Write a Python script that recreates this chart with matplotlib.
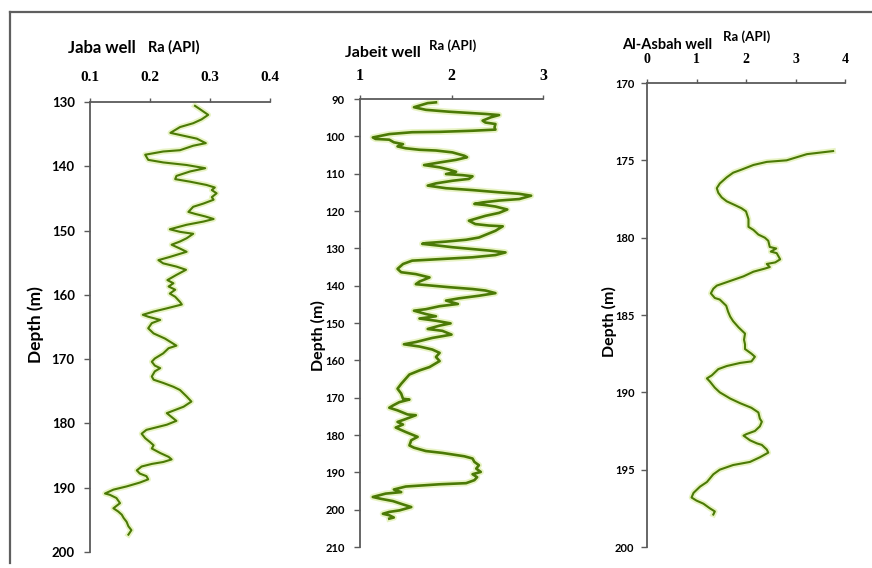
import matplotlib.pyplot as plt
from matplotlib.lines import Line2D

# Jaba well: Ra (API) against depth (m)
jaba_ra = [0.275, 0.283, 0.297, 0.286, 0.272, 0.250, 0.234, 0.278, 0.293, 0.272,
           0.250, 0.222, 0.192, 0.197, 0.222, 0.261, 0.292, 0.267, 0.244, 0.242,
           0.267, 0.294, 0.308, 0.303, 0.311, 0.303, 0.306, 0.289, 0.272, 0.264,
           0.275, 0.292, 0.306, 0.289, 0.261, 0.233, 0.250, 0.272, 0.261, 0.250,
           0.236, 0.250, 0.261, 0.233, 0.214, 0.222, 0.244, 0.260, 0.244, 0.229,
           0.239, 0.231, 0.242, 0.233, 0.242, 0.250, 0.253, 0.228, 0.206, 0.188,
           0.197, 0.217, 0.203, 0.197, 0.206, 0.225, 0.244, 0.231, 0.222, 0.208,
           0.203, 0.208, 0.217, 0.208, 0.203, 0.206, 0.222, 0.239, 0.250, 0.261,
           0.269, 0.256, 0.242, 0.228, 0.236, 0.244, 0.228, 0.211, 0.194, 0.186,
           0.192, 0.200, 0.206, 0.203, 0.217, 0.231, 0.236, 0.222, 0.203, 0.186,
           0.178, 0.183, 0.194, 0.197, 0.183, 0.161, 0.139, 0.125, 0.133, 0.144,
           0.150, 0.139, 0.147, 0.153, 0.156, 0.161, 0.164, 0.169, 0.164]
jaba_depth = [130.6, 131.1, 132.0, 132.7, 133.3, 133.9, 134.8, 135.7, 136.4, 136.8,
              137.5, 137.7, 138.2, 139.0, 139.4, 139.8, 140.3, 140.8, 141.5, 142.0,
              142.4, 142.9, 143.3, 143.7, 144.2, 144.8, 145.2, 145.8, 146.3, 147.1,
              147.4, 147.8, 148.2, 148.6, 149.1, 149.8, 150.2, 150.5, 151.2, 151.7,
              152.2, 152.8, 153.3, 154.1, 154.6, 155.1, 155.6, 156.1, 156.9, 157.7,
              158.2, 158.7, 159.2, 159.8, 160.3, 161.1, 161.5, 162.1, 162.6, 163.1,
              163.4, 163.9, 164.4, 165.2, 166.0, 166.8, 167.9, 168.3, 169.1, 169.9,
              170.4, 171.0, 171.4, 171.9, 172.7, 173.2, 173.7, 174.3, 174.8, 175.8,
              176.6, 177.4, 177.9, 178.4, 179.0, 179.6, 180.2, 180.6, 181.0, 181.6,
              182.3, 182.9, 183.4, 183.9, 184.6, 185.2, 185.6, 186.0, 186.3, 186.7,
              187.3, 187.8, 188.2, 188.7, 189.2, 189.8, 190.3, 190.9, 191.1, 191.6,
              192.4, 193.2, 193.7, 194.2, 194.7, 195.3, 196.0, 196.6, 197.3]

# Jabeit well
jabeit_ra = [1.83, 1.74, 1.59, 1.72, 1.97, 2.23, 2.37, 2.52, 2.43, 2.34, 2.37, 2.48,
             2.47, 2.48, 2.23, 1.87, 1.57, 1.32, 1.14, 1.17, 1.32, 1.37, 1.47, 1.41,
             1.50, 1.65, 1.83, 2.01, 2.14, 2.17, 2.05, 1.87, 1.70, 1.87, 1.97, 2.05,
             1.94, 2.12, 2.23, 2.19, 2.01, 1.83, 1.74, 1.94, 2.23, 2.52, 2.74, 2.87,
             2.74, 2.52, 2.34, 2.25, 2.37, 2.48, 2.61, 2.52, 2.37, 2.19, 2.26, 2.41,
             2.56, 2.48, 2.37, 2.30, 2.16, 1.94, 1.72, 1.68, 1.87, 2.01, 2.23, 2.41,
             2.59, 2.48, 2.23, 1.87, 1.57, 1.47, 1.41, 1.45, 1.61, 1.76, 1.65, 1.61,
             1.79, 1.97, 2.23, 2.37, 2.48, 2.30, 2.08, 1.94, 2.07, 1.87, 1.72, 1.59,
             1.72, 1.83, 1.65, 1.83, 1.99, 1.87, 1.74, 1.90, 2.00, 1.79,
             1.61, 1.48, 1.65, 1.79, 1.87, 1.83, 1.87, 1.76, 1.65, 1.54, 1.50,
             1.45, 1.41, 1.45, 1.47, 1.54, 1.43, 1.36, 1.32, 1.41, 1.52, 1.61, 1.48,
             1.41, 1.47, 1.39, 1.50, 1.63, 1.56, 1.54, 1.59, 1.72, 1.90, 2.14, 2.23,
             2.25, 2.30, 2.27, 2.32, 2.23, 2.28, 2.25, 2.16, 1.87, 1.50, 1.37, 1.45,
             1.28, 1.14, 1.23, 1.36, 1.47, 1.56, 1.43, 1.32, 1.25, 1.32, 1.37, 1.32]
jabeit_depth = [90.9, 91.1, 92.2, 92.9, 93.4, 93.8, 94.0, 94.3, 94.9, 95.8, 96.3, 96.7,
                97.6, 98.2, 98.5, 98.8, 98.9, 99.4, 100.3, 100.7, 100.9, 101.6, 102.1, 102.7,
                103.2, 103.6, 103.8, 104.3, 105.2, 105.6, 106.3, 107.0, 107.7, 108.3, 108.9, 109.5,
                110.1, 110.4, 110.7, 111.4, 111.9, 112.6, 113.2, 113.9, 114.4, 115.0, 115.4, 115.9,
                116.8, 117.2, 117.7, 118.1, 118.4, 118.8, 119.6, 120.5, 121.3, 122.6, 123.5, 123.9,
                124.1, 125.3, 126.4, 127.1, 127.7, 128.2, 128.6, 128.8, 129.3, 129.7, 130.2, 130.6,
                131.1, 131.8, 132.4, 132.9, 133.3, 134.2, 135.5, 136.4, 136.9, 137.8, 138.9, 139.6,
                140.0, 140.4, 140.9, 141.3, 142.0, 142.7, 143.4, 144.0, 144.9, 145.5, 146.3, 146.7,
                147.6, 148.2, 148.8, 149.4, 150.1, 150.7, 151.6, 152.1, 153.1, 154.0,
                155.1, 155.7, 156.3, 157.1, 158.0, 159.1, 160.2, 161.8, 162.7, 163.8, 164.9,
                166.3, 167.6, 168.9, 170.3, 170.5, 171.2, 172.1, 172.7, 173.4, 174.5, 174.7, 175.9,
                176.5, 177.2, 178.0, 179.2, 180.5, 181.4, 182.8, 183.4, 184.3, 184.8, 185.7, 186.3,
                187.2, 188.1, 189.0, 189.9, 190.5, 191.3, 192.1, 192.9, 193.2, 193.8, 194.6, 195.3,
                195.7, 196.6, 197.1, 197.7, 198.6, 199.3, 200.2, 200.6, 201.1, 201.5, 202.1, 202.4]

# Al-Asbah well
asbah_ra = [3.76, 3.23, 2.82, 2.42, 2.15, 1.91, 1.74, 1.61, 1.47, 1.41, 1.44, 1.51,
            1.61, 1.78, 1.91, 2.00, 2.05, 2.05, 2.15, 2.25, 2.38, 2.45, 2.48, 2.61,
            2.50, 2.62, 2.69, 2.59, 2.42, 2.48, 2.38, 2.15, 1.95, 1.68, 1.41, 1.34,
            1.29, 1.37, 1.47, 1.60, 1.64, 1.68, 1.74, 1.85, 1.98, 1.96, 1.98, 1.98,
            2.11, 2.18, 2.11, 1.88, 1.61, 1.44, 1.31, 1.21, 1.27, 1.37, 1.47, 1.68,
            1.88, 2.11, 2.25, 2.28, 2.32, 2.28, 2.18, 2.01, 1.95, 2.08, 2.22, 2.32,
            2.42, 2.45, 2.28, 2.08, 1.74, 1.47, 1.34, 1.21, 1.07, 0.94, 0.90, 1.00,
            1.14, 1.27, 1.37, 1.34]
asbah_depth = [174.4, 174.6, 175.0, 175.1, 175.3, 175.6, 175.8, 176.1, 176.5, 176.8, 177.1, 177.4,
               177.65, 177.9, 178.1, 178.3, 178.8, 179.3, 179.5, 179.8, 180.0, 180.2, 180.6, 180.7,
               180.9, 181.0, 181.4, 181.6, 181.7, 181.9, 182.0, 182.2, 182.5, 182.8, 183.1, 183.3,
               183.6, 183.9, 184.0, 184.4, 184.8, 185.1, 185.4, 185.8, 186.2, 186.6, 186.9, 187.2,
               187.5, 187.7, 188.0, 188.1, 188.3, 188.5, 188.9, 189.1, 189.3, 189.7, 190.0, 190.4,
               190.7, 191.0, 191.3, 191.7, 191.9, 192.2, 192.5, 192.7, 192.8, 193.1, 193.3, 193.4,
               193.7, 193.9, 194.2, 194.5, 194.7, 195.0, 195.3, 195.8, 196.1, 196.5, 196.8, 197.0,
               197.2, 197.5, 197.7, 197.9]

W, H = 872, 568
fig = plt.figure(figsize=(W / 100, H / 100), dpi=100)
fig.patch.set_facecolor('white')

# frame lines of the original picture (top and left only)
fig.add_artist(Line2D([10 / W, 1], [1 - 12 / H, 1 - 12 / H], color='#5f5f5f', lw=1.6))
fig.add_artist(Line2D([10 / W, 10 / W], [1 - 12 / H, 1 - 563 / H], color='#5f5f5f', lw=1.6))


def px_axes(left, right, top, bottom):
    return fig.add_axes([left / W, 1 - bottom / H, (right - left) / W, (bottom - top) / H])


def log_panel(ax, ra, depth, xlim, xticks, xlabels, ylim, yticks,
              xfs, yfs, xpad, ypad, core_lw):
    ax.plot(ra, depth, color='#d6ea95', lw=core_lw + 2.6, alpha=0.55,
            solid_joinstyle='round')
    ax.plot(ra, depth, color='#4b7a06', lw=core_lw, solid_joinstyle='round')
    ax.set_xlim(*xlim)
    ax.set_ylim(ylim[1], ylim[0])
    for side in ['right', 'bottom']:
        ax.spines[side].set_visible(False)
    for side in ['left', 'top']:
        ax.spines[side].set_color('#5a5a5a')
        ax.spines[side].set_linewidth(1.3)
    ax.xaxis.tick_top()
    ax.set_xticks(xticks)
    ax.set_xticklabels(xlabels, fontfamily='Liberation Serif', fontweight='bold',
                       fontsize=xfs)
    ax.set_yticks(yticks)
    ax.set_yticklabels([str(t) for t in yticks], fontfamily='Lato', fontweight='bold',
                       fontsize=yfs)
    ax.tick_params(axis='x', direction='out', length=3, width=1, color='#5a5a5a', pad=xpad)
    ax.tick_params(axis='y', direction='out', length=4, width=1, color='#5a5a5a', pad=ypad)
    ax.set_facecolor('white')


ax1 = px_axes(90, 270, 102, 552)
log_panel(ax1, jaba_ra, jaba_depth, (0.1, 0.4), [0.1, 0.2, 0.3, 0.4],
          ['0.1', '0.2', '0.3', '0.4'], (130, 200), list(range(130, 201, 10)),
          11, 9.5, 10, 7, 1.5)

ax2 = px_axes(360, 543, 99, 547)
log_panel(ax2, jabeit_ra, jabeit_depth, (1, 3), [1, 2, 3], ['1', '2', '3'],
          (90, 210), list(range(90, 211, 10)), 11.5, 8, 8, 7, 1.9)

ax3 = px_axes(647, 845, 83, 547)
log_panel(ax3, asbah_ra, asbah_depth, (0, 4), [0, 1, 2, 3, 4],
          ['0', '1', '2', '3', '4'], (170, 200), list(range(170, 201, 5)),
          10, 8, 9, 5, 1.5)


def label(x, y, s, size):
    fig.text(x / W, 1 - y / H, s, fontsize=size, family='Lato', weight='bold',
             ha='left', va='center')


label(68, 48, 'Jaba well', 12)
label(148, 47, 'Ra (API)', 10.5)
label(345, 53, 'Jabeit well', 11.5)
label(429, 46, 'Ra (API)', 9.5)
label(622, 45, 'Al-Asbah well', 10.5)
label(723, 37, 'Ra (API)', 9.5)

for x, y, fs in [(36, 325, 12.5), (318, 336, 11.5), (609, 322, 11.5)]:
    fig.text(x / W, 1 - y / H, 'Depth (m)', fontsize=fs, family='Lato', weight='bold',
             rotation=90, ha='center', va='center')

fig.savefig('out.png', dpi=100)
